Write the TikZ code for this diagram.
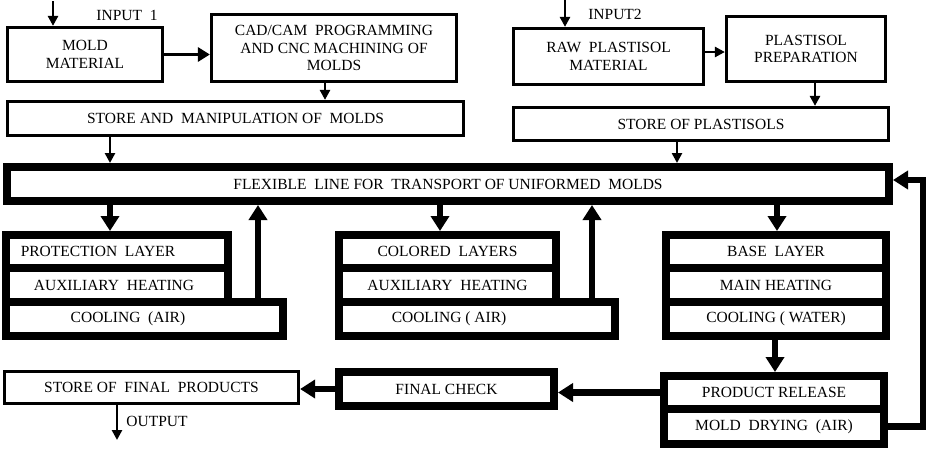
\documentclass[tikz,border=0pt]{standalone}
\usepackage{fontspec}
\setmainfont{Liberation Serif}
\usetikzlibrary{arrows.meta}
\begin{document}
\begin{tikzpicture}[x=1pt,y=-1pt,
  every node/.style={font=\fontsize{15.5}{17.5}\selectfont, align=center, inner sep=0pt},
  tbox/.style={draw, line width=3.2pt, rectangle},
  kbox/.style={draw, line width=8pt, rectangle},
  lbl/.style={inner sep=0pt},
  tarrow/.style={line width=2.5pt, -{Triangle[length=10pt,width=10pt]}},
  marrow/.style={line width=3.5pt, -{Triangle[length=12pt,width=14pt]}},
  karrow/.style={line width=6.5pt, -{Triangle[length=15pt,width=18pt]}}
]
\useasboundingbox (0,0) rectangle (931,450);
% top-left chain
\node[tbox, minimum width=155pt, minimum height=54pt] (mold) at (85,54.5) {MOLD\\MATERIAL};
\node[tbox, minimum width=245pt, minimum height=67pt] (cad) at (334,48) {CAD/CAM~ PROGRAMMING\\AND CNC MACHINING OF\\MOLDS};
\node[tbox, minimum width=456pt, minimum height=34pt] (store1) at (235.5,118.5) {STORE AND~ MANIPULATION OF~ MOLDS};
% top-right chain
\node[tbox, minimum width=190pt, minimum height=56pt] (raw) at (608.5,56.5) {RAW~ PLASTISOL\\MATERIAL};
\node[tbox, minimum width=159pt, minimum height=65pt] (prep) at (806,49) {PLASTISOL\\PREPARATION};
\node[tbox, minimum width=375pt, minimum height=33pt] (store2) at (701,124) {STORE OF PLASTISOLS};
% flexible line
\node[kbox, minimum width=882pt, minimum height=34pt] (flex) at (448,184) {FLEXIBLE~ LINE FOR~ TRANSPORT OF UNIFORMED~ MOLDS};
% left group
\node[kbox, minimum width=222pt, minimum height=33pt] (prot) at (117,251.5) {};
\node[kbox, minimum width=222pt, minimum height=34pt] (aux1) at (117,285) {};
\node[kbox, minimum width=277pt, minimum height=34pt] (cool1) at (144.5,319) {};
\node[lbl] (tprot) at (98,251.5) {PROTECTION~ LAYER};
\node[lbl] (taux1) at (114,285) {AUXILIARY~ HEATING};
\node[lbl] (tcool1) at (128,319) {COOLING~ (AIR)};
% middle group
\node[kbox, minimum width=217pt, minimum height=33pt] (col) at (447.5,251.5) {COLORED~ LAYERS};
\node[kbox, minimum width=217pt, minimum height=34pt] (aux2) at (447.5,285) {AUXILIARY~ HEATING};
\node[kbox, minimum width=276pt, minimum height=34pt] (cool2) at (477,319) {};
\node[lbl] (tcool2) at (449,319) {COOLING ( AIR)};
% right group
\node[kbox, minimum width=220pt, minimum height=33pt] (base) at (776,251.5) {BASE~ LAYER};
\node[kbox, minimum width=220pt, minimum height=34pt] (main) at (776,285) {MAIN HEATING};
\node[kbox, minimum width=220pt, minimum height=34pt] (coolw) at (776,319) {COOLING ( WATER)};
% bottom row
\node[kbox, minimum width=220pt, minimum height=33pt] (rel) at (774,392.5) {PRODUCT RELEASE};
\node[kbox, minimum width=220pt, minimum height=35pt] (dry) at (774,426.5) {MOLD~ DRYING~ (AIR)};
\node[kbox, minimum width=215pt, minimum height=34pt] (check) at (446.5,389) {FINAL CHECK};
\node[tbox, minimum width=294pt, minimum height=32pt] (fstore) at (151.5,387.5) {STORE OF~ FINAL~ PRODUCTS};
% labels
\node[lbl] (in1t) at (127,15) {INPUT~ 1};
\node[lbl] (in2t) at (615,14) {INPUT2};
\node[lbl] (outt) at (157,421) {OUTPUT};
% coordinates
\coordinate (in1) at (53,1);
\coordinate (in2) at (565,0);
\coordinate (out) at (117,440);
\coordinate (c1) at (325,0);
\coordinate (c2) at (110,0);
\coordinate (c3) at (815,0);
\coordinate (c4) at (677,0);
\coordinate (c5) at (440,0);
\coordinate (c6) at (777,0);
\coordinate (c7) at (258,0);
\coordinate (c8) at (592,0);
\coordinate (c9) at (775,0);
\coordinate (fb) at (923,180);
% connectors
\draw[tarrow] (in1) -- (in1 |- mold.north);
\draw[marrow] (mold.east) -- (cad.west |- mold.east);
\draw[tarrow] (cad.south -| c1) -- (store1.north -| c1);
\draw[tarrow] (store1.south -| c2) -- (flex.north -| c2);
\draw[tarrow] (in2) -- (in2 |- raw.north);
\draw[tarrow] (raw.east |- 0,52) -- (prep.west |- 0,52);
\draw[tarrow] (prep.south -| c3) -- (store2.north -| c3);
\draw[tarrow] (store2.south -| c4) -- (flex.north -| c4);
\draw[karrow] (flex.south -| c2) -- (prot.north -| c2);
\draw[karrow] (flex.south -| c5) -- (col.north -| c5);
\draw[karrow] (flex.south -| c6) -- (base.north -| c6);
\draw[karrow] (cool1.north -| c7) -- (flex.south -| c7);
\draw[karrow] (cool2.north -| c8) -- (flex.south -| c8);
\draw[karrow] (coolw.south -| c9) -- (rel.north -| c9);
\draw[karrow] (rel.west) -- (check.east |- rel.west);
\draw[karrow] (check.west) -- (fstore.east |- check.west);
\draw[tarrow] (fstore.south -| out) -- (out);
\draw[karrow] (dry.east) -| (fb) -- (flex.east |- fb);
\end{tikzpicture}
\end{document}
